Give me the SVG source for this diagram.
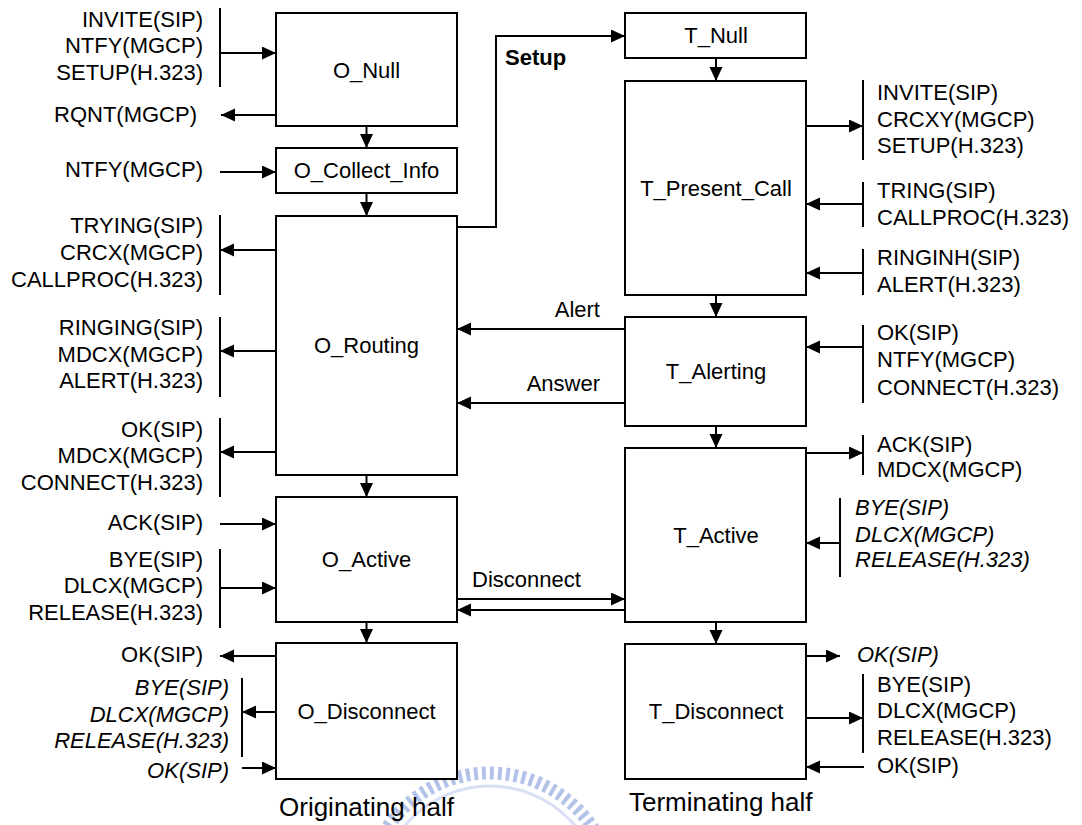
<svg xmlns="http://www.w3.org/2000/svg" width="1082" height="825" viewBox="0 0 1082 825">
  <style>
    text { font-family: "Liberation Sans", Arial, sans-serif; font-size: 22px; fill: #000; }
    .box { fill: #fff; stroke: #000; stroke-width: 2; }
    .lbl { text-anchor: middle; }
    .end { text-anchor: end; }
    .it { font-style: italic; }
    .bar { stroke: #000; stroke-width: 2; fill: none; }
    .c { stroke: #000; stroke-width: 2; fill: none; marker-end: url(#ah); }
    .cap { font-size: 26px; }
  </style>
  <defs>
    <marker id="ah" markerUnits="userSpaceOnUse" markerWidth="15" markerHeight="14" refX="14" refY="6.5" orient="auto">
      <path d="M0,0 L14,6.5 L0,13 z" fill="#000"/>
    </marker>
  </defs>

  <rect width="1082" height="825" fill="#fff"/>

  <!-- faint seal in the background -->
  <g id="seal" fill="none" stroke="#8099d8">
    <circle cx="490" cy="897" r="124" stroke-width="13" stroke-dasharray="4 4" opacity="0.6"/>
    <circle cx="490" cy="897" r="111" stroke-width="3" opacity="0.3"/>
  </g>

  <!-- originating half -->
  <g id="O_Null"><rect class="box" x="276" y="13" width="181" height="113"/><text class="lbl" x="366.5" y="78">O_Null</text></g>
  <g id="O_Collect_Info"><rect class="box" x="276" y="148" width="181" height="45"/><text class="lbl" x="366.5" y="178">O_Collect_Info</text></g>
  <g id="O_Routing"><rect class="box" x="276" y="216" width="181" height="259"/><text class="lbl" x="366.5" y="353">O_Routing</text></g>
  <g id="O_Active"><rect class="box" x="276" y="497" width="181" height="125"/><text class="lbl" x="366.5" y="567">O_Active</text></g>
  <g id="O_Disconnect"><rect class="box" x="276" y="643" width="181" height="136"/><text class="lbl" x="366.5" y="719">O_Disconnect</text></g>

  <!-- terminating half -->
  <g id="T_Null"><rect class="box" x="625" y="13" width="181" height="45"/><text class="lbl" x="716" y="43">T_Null</text></g>
  <g id="T_Present_Call"><rect class="box" x="625" y="81" width="181" height="214"/><text class="lbl" x="716" y="196">T_Present_Call</text></g>
  <g id="T_Alerting"><rect class="box" x="625" y="317" width="181" height="109"/><text class="lbl" x="716" y="379">T_Alerting</text></g>
  <g id="T_Active"><rect class="box" x="625" y="448" width="181" height="174"/><text class="lbl" x="716" y="543">T_Active</text></g>
  <g id="T_Disconnect"><rect class="box" x="625" y="644" width="181" height="135"/><text class="lbl" x="716" y="719">T_Disconnect</text></g>

  <!-- message lists, originating side -->
  <g id="o_msgs">
    <text class="end" x="203" y="27">INVITE(SIP)</text>
    <text class="end" x="203" y="53">NTFY(MGCP)</text>
    <text class="end" x="203" y="80">SETUP(H.323)</text>
    <text class="end" x="197" y="122">RQNT(MGCP)</text>
    <text class="end" x="203" y="177">NTFY(MGCP)</text>
    <text class="end" x="203" y="233">TRYING(SIP)</text>
    <text class="end" x="203" y="260">CRCX(MGCP)</text>
    <text class="end" x="203" y="287">CALLPROC(H.323)</text>
    <text class="end" x="203" y="335">RINGING(SIP)</text>
    <text class="end" x="203" y="362">MDCX(MGCP)</text>
    <text class="end" x="203" y="388">ALERT(H.323)</text>
    <text class="end" x="203" y="437">OK(SIP)</text>
    <text class="end" x="203" y="463">MDCX(MGCP)</text>
    <text class="end" x="203" y="490">CONNECT(H.323)</text>
    <text class="end" x="203" y="530">ACK(SIP)</text>
    <text class="end" x="203" y="567">BYE(SIP)</text>
    <text class="end" x="203" y="593">DLCX(MGCP)</text>
    <text class="end" x="203" y="620">RELEASE(H.323)</text>
    <text class="end" x="203" y="662">OK(SIP)</text>
    <text class="end it" x="229" y="695">BYE(SIP)</text>
    <text class="end it" x="229" y="722">DLCX(MGCP)</text>
    <text class="end it" x="229" y="748">RELEASE(H.323)</text>
    <text class="end it" x="229" y="778">OK(SIP)</text>
  </g>

  <!-- message lists, terminating side -->
  <g id="t_msgs">
    <text x="877" y="100">INVITE(SIP)</text>
    <text x="877" y="127">CRCXY(MGCP)</text>
    <text x="877" y="153">SETUP(H.323)</text>
    <text x="877" y="198">TRING(SIP)</text>
    <text x="877" y="225">CALLPROC(H.323)</text>
    <text x="877" y="265">RINGINH(SIP)</text>
    <text x="877" y="292">ALERT(H.323)</text>
    <text x="877" y="340">OK(SIP)</text>
    <text x="877" y="367">NTFY(MGCP)</text>
    <text x="877" y="395">CONNECT(H.323)</text>
    <text x="877" y="452">ACK(SIP)</text>
    <text x="877" y="477">MDCX(MGCP)</text>
    <text class="it" x="855" y="515">BYE(SIP)</text>
    <text class="it" x="855" y="542">DLCX(MGCP)</text>
    <text class="it" x="855" y="567">RELEASE(H.323)</text>
    <text class="it" x="857" y="662">OK(SIP)</text>
    <text x="877" y="692">BYE(SIP)</text>
    <text x="877" y="718">DLCX(MGCP)</text>
    <text x="877" y="745">RELEASE(H.323)</text>
    <text x="877" y="773">OK(SIP)</text>
  </g>

  <!-- connectors -->
  <g id="connectors">
    <!-- bracket bars grouping messages -->
    <path class="bar" d="M220,8 V87 M220,215 V295 M220,317 V397 M220,418 V497 M220,549 V628 M242,678 V757"/>
    <path class="bar" d="M863,80 V160 M863,182 V227 M863,249 V295 M863,325 V403 M863,435 V475 M840,498 V577 M863,674 V753"/>

    <!-- originating side messages -->
    <path class="c" d="M220,53 H276"/>
    <path class="c" d="M276,115 H221"/>
    <path class="c" d="M220,172 H276"/>
    <path class="c" d="M276,250 H220"/>
    <path class="c" d="M276,351 H220"/>
    <path class="c" d="M276,452 H220"/>
    <path class="c" d="M220,524 H276"/>
    <path class="c" d="M220,588 H276"/>
    <path class="c" d="M276,656 H220"/>
    <path class="c" d="M276,712 H242"/>
    <path class="c" d="M242,768 H276"/>

    <!-- state transitions -->
    <path class="c" d="M366.5,126 V148"/>
    <path class="c" d="M366.5,193 V216"/>
    <path class="c" d="M366.5,475 V497"/>
    <path class="c" d="M366.5,622 V643"/>
    <path class="c" d="M716,58 V81"/>
    <path class="c" d="M716,295 V317"/>
    <path class="c" d="M716,426 V448"/>
    <path class="c" d="M716,622 V644"/>

    <!-- between the halves -->
    <path class="c" d="M457,227 H496 V36 H625"/>
    <path class="c" d="M625,329 H457"/>
    <path class="c" d="M625,403 H457"/>
    <path class="c" d="M457,599 H625"/>
    <path class="c" d="M625,610 H457"/>

    <!-- terminating side messages -->
    <path class="c" d="M806,126 H863"/>
    <path class="c" d="M863,204 H806"/>
    <path class="c" d="M863,273 H806"/>
    <path class="c" d="M863,347 H806"/>
    <path class="c" d="M806,453 H863"/>
    <path class="c" d="M840,543 H806"/>
    <path class="c" d="M806,656 H840"/>
    <path class="c" d="M806,718 H863"/>
    <path class="c" d="M864,767 H806"/>

    <!-- labels on the inter-half links -->
    <text x="505" y="65" font-weight="bold" font-size="20">Setup</text>
    <text class="end" x="600" y="317">Alert</text>
    <text class="end" x="600" y="391">Answer</text>
    <text x="472" y="587">Disconnect</text>
  </g>

  <text class="cap" x="279" y="816">Originating half</text>
  <text class="cap" x="629" y="811">Terminating half</text>
</svg>
